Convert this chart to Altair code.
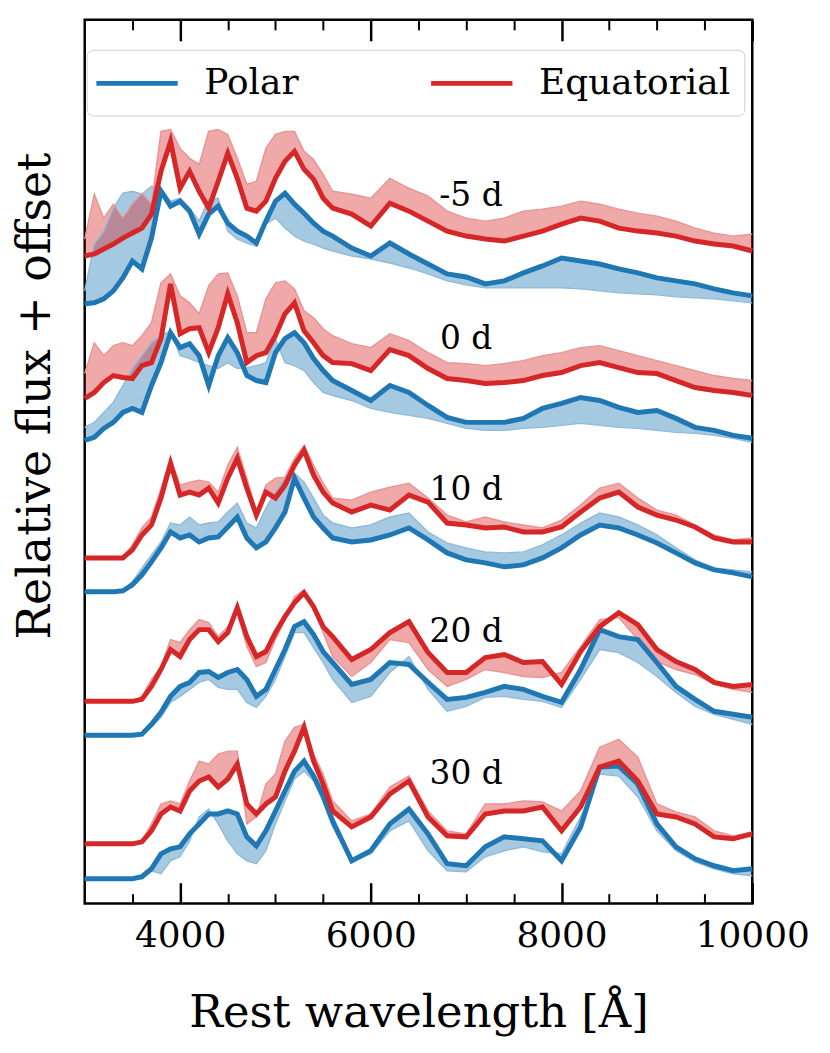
import altair as alt
import pandas as pd

WAVE = [3000, 3100, 3200, 3300, 3400, 3500, 3600, 3700, 3800, 3900, 4000, 4100, 4200, 4300,
        4400, 4500, 4600, 4700, 4800, 4900, 5000, 5100, 5200, 5300, 5400, 5500, 5600,
        5800, 6000, 6200, 6400, 6600, 6800, 7000, 7200, 7400, 7600, 7800, 8000, 8200, 8400,
        8600, 8800, 9000, 9200, 9400, 9600, 9800, 10000]

EPOCHS = ["-5 d", "0 d", "10 d", "20 d", "30 d"]

# Polar (line, band edge) and Equatorial (line, band edge), relative flux + offset
POLAR_M5 = [6.02, 6.03, 6.07, 6.15, 6.28, 6.45, 6.37, 6.68, 7.15, 7.00, 7.05, 6.95, 6.72, 6.92,
            7.00, 6.83, 6.75, 6.70, 6.63, 6.85, 7.05, 7.13, 7.02, 6.93, 6.83, 6.75, 6.70,
            6.58, 6.50, 6.63, 6.52, 6.42, 6.32, 6.29, 6.22, 6.25, 6.33, 6.40, 6.48, 6.45, 6.42,
            6.37, 6.33, 6.28, 6.25, 6.22, 6.17, 6.13, 6.10]
POLAR_M5_EDGE = [6.15, 6.62, 6.75, 6.98, 7.13, 7.15, 7.12, 7.20, 7.18, 7.05, 7.08, 6.98, 6.85, 7.07,
                 7.08, 6.75, 6.67, 6.63, 6.60, 6.82, 6.88, 6.78, 6.70, 6.65, 6.62, 6.58, 6.55,
                 6.50, 6.47, 6.43, 6.38, 6.32, 6.25, 6.21, 6.18, 6.18, 6.18, 6.18, 6.18, 6.17, 6.15,
                 6.13, 6.12, 6.11, 6.09, 6.08, 6.07, 6.05, 6.03]
EQUA_M5 = [6.50, 6.52, 6.57, 6.62, 6.68, 6.73, 6.78, 6.92, 7.35, 7.65, 7.18, 7.35, 7.15, 6.98,
           7.25, 7.53, 7.28, 6.98, 6.95, 7.05, 7.28, 7.45, 7.55, 7.37, 7.27, 7.08, 6.98,
           6.92, 6.80, 7.03, 6.95, 6.85, 6.75, 6.70, 6.67, 6.65, 6.70, 6.75, 6.82, 6.88, 6.85,
           6.78, 6.75, 6.73, 6.70, 6.65, 6.62, 6.60, 6.55]
EQUA_M5_EDGE = [6.67, 7.12, 6.88, 7.02, 6.88, 7.02, 7.13, 7.02, 7.75, 7.77, 7.58, 7.48, 7.42, 7.75,
                7.77, 7.72, 7.48, 7.22, 7.25, 7.58, 7.72, 7.75, 7.75, 7.55, 7.47, 7.32, 7.15,
                7.12, 7.08, 7.28, 7.18, 7.10, 6.95, 6.88, 6.85, 6.88, 6.95, 6.97, 7.00, 7.05, 7.02,
                6.97, 6.93, 6.90, 6.85, 6.78, 6.73, 6.70, 6.72]

POLAR_0 = [4.65, 4.68, 4.77, 4.83, 4.93, 4.97, 4.93, 5.20, 5.43, 5.73, 5.58, 5.62, 5.50, 5.20,
           5.50, 5.68, 5.53, 5.30, 5.25, 5.23, 5.53, 5.67, 5.73, 5.63, 5.47, 5.35, 5.25,
           5.15, 5.05, 5.20, 5.13, 5.00, 4.88, 4.83, 4.83, 4.83, 4.87, 4.97, 5.02, 5.08, 5.05,
           4.98, 4.93, 4.95, 4.87, 4.78, 4.75, 4.70, 4.67]
POLAR_0_EDGE = [4.78, 4.83, 4.93, 5.03, 5.20, 5.37, 5.50, 5.63, 5.70, 5.75, 5.50, 5.47, 5.43, 5.40,
                5.37, 5.43, 5.37, 5.38, 5.40, 5.43, 5.67, 5.43, 5.40, 5.35, 5.23, 5.13, 5.10,
                5.05, 4.97, 4.93, 4.90, 4.87, 4.82, 4.77, 4.75, 4.75, 4.77, 4.78, 4.80, 4.82, 4.80,
                4.78, 4.77, 4.75, 4.73, 4.72, 4.70, 4.67, 4.63]
EQUA_0 = [5.07, 5.13, 5.23, 5.30, 5.28, 5.27, 5.40, 5.43, 5.67, 6.22, 5.72, 5.77, 5.78, 5.53,
          5.78, 6.12, 5.83, 5.43, 5.50, 5.53, 5.70, 5.92, 6.03, 5.75, 5.63, 5.50, 5.43,
          5.42, 5.35, 5.56, 5.50, 5.37, 5.27, 5.25, 5.22, 5.23, 5.25, 5.30, 5.33, 5.40, 5.43,
          5.38, 5.33, 5.32, 5.25, 5.18, 5.15, 5.13, 5.10]
EQUA_0_EDGE = [5.32, 5.63, 5.50, 5.60, 5.63, 5.60, 5.70, 5.83, 6.23, 6.32, 6.10, 6.03, 5.92, 6.20,
               6.32, 6.33, 6.10, 5.73, 5.73, 6.07, 6.23, 6.25, 6.17, 5.95, 5.88, 5.77, 5.70,
               5.62, 5.58, 5.72, 5.65, 5.53, 5.43, 5.42, 5.40, 5.42, 5.45, 5.50, 5.53, 5.58, 5.60,
               5.55, 5.50, 5.45, 5.40, 5.35, 5.30, 5.27, 5.25]

POLAR_10 = [3.13, 3.13, 3.13, 3.13, 3.14, 3.20, 3.30, 3.43, 3.57, 3.73, 3.67, 3.70, 3.63, 3.67,
            3.68, 3.78, 3.88, 3.67, 3.57, 3.63, 3.77, 3.93, 4.27, 4.07, 3.88, 3.77, 3.67,
            3.63, 3.65, 3.70, 3.77, 3.65, 3.52, 3.45, 3.42, 3.38, 3.40, 3.47, 3.57, 3.70, 3.80,
            3.77, 3.70, 3.62, 3.52, 3.42, 3.35, 3.32, 3.28]
POLAR_10_EDGE = [3.13, 3.13, 3.13, 3.14, 3.15, 3.23, 3.37, 3.50, 3.63, 3.82, 3.80, 3.88, 3.80, 3.82,
                 3.83, 3.93, 4.02, 3.82, 3.77, 3.97, 4.13, 4.27, 4.32, 4.23, 4.07, 3.90, 3.82,
                 3.77, 3.80, 3.88, 3.92, 3.73, 3.62, 3.57, 3.53, 3.52, 3.53, 3.60, 3.70, 3.82, 3.92,
                 3.88, 3.80, 3.70, 3.57, 3.45, 3.37, 3.35, 3.33]
EQUA_10 = [3.47, 3.47, 3.47, 3.47, 3.47, 3.55, 3.70, 3.80, 4.07, 4.42, 4.10, 4.13, 4.10, 4.17,
           4.02, 4.27, 4.47, 4.17, 3.90, 4.13, 4.07, 4.20, 4.40, 4.55, 4.30, 4.13, 4.02,
           3.93, 4.00, 3.95, 4.10, 4.03, 3.82, 3.80, 3.77, 3.78, 3.73, 3.73, 3.78, 3.93, 4.07,
           4.13, 3.98, 3.90, 3.85, 3.78, 3.67, 3.63, 3.63]
EQUA_10_EDGE = [3.48, 3.48, 3.48, 3.48, 3.48, 3.60, 3.77, 3.88, 4.17, 4.47, 4.20, 4.23, 4.25, 4.23,
                4.13, 4.40, 4.58, 4.27, 3.93, 4.20, 4.27, 4.28, 4.47, 4.60, 4.40, 4.22, 4.07,
                4.05, 4.13, 4.18, 4.22, 4.07, 3.90, 3.83, 3.88, 3.83, 3.80, 3.77, 3.85, 4.00, 4.17,
                4.22, 4.07, 3.95, 3.90, 3.80, 3.70, 3.65, 3.67]

POLAR_20 = [1.69, 1.69, 1.69, 1.69, 1.69, 1.69, 1.70, 1.80, 1.92, 2.08, 2.18, 2.22, 2.32, 2.33,
            2.27, 2.32, 2.35, 2.25, 2.08, 2.15, 2.35, 2.55, 2.78, 2.83, 2.70, 2.53, 2.42,
            2.20, 2.25, 2.42, 2.40, 2.22, 2.05, 2.07, 2.12, 2.18, 2.15, 2.08, 2.02, 2.35, 2.75,
            2.68, 2.65, 2.42, 2.18, 2.05, 1.93, 1.90, 1.87]
POLAR_20_EDGE = [1.70, 1.70, 1.70, 1.70, 1.70, 1.70, 1.70, 1.77, 1.87, 2.02, 2.08, 2.15, 2.22, 2.25,
                 2.17, 2.15, 2.15, 2.02, 1.97, 2.08, 2.25, 2.48, 2.72, 2.72, 2.57, 2.42, 2.25,
                 2.02, 2.08, 2.32, 2.48, 2.15, 1.93, 1.98, 2.07, 2.08, 2.05, 2.03, 1.97, 2.25, 2.55,
                 2.52, 2.42, 2.28, 2.12, 1.98, 1.90, 1.85, 1.80]
EQUA_20 = [2.03, 2.03, 2.03, 2.03, 2.03, 2.03, 2.05, 2.18, 2.35, 2.55, 2.48, 2.65, 2.75, 2.75,
           2.63, 2.72, 2.97, 2.68, 2.48, 2.53, 2.72, 2.88, 3.02, 3.12, 2.98, 2.78, 2.68,
           2.45, 2.55, 2.72, 2.83, 2.52, 2.32, 2.32, 2.47, 2.50, 2.42, 2.43, 2.20, 2.53, 2.78,
           2.92, 2.80, 2.55, 2.43, 2.35, 2.22, 2.18, 2.20]
EQUA_20_EDGE = [2.03, 2.03, 2.03, 2.03, 2.03, 2.03, 2.08, 2.25, 2.38, 2.65, 2.62, 2.75, 2.85, 2.82,
                2.68, 2.78, 2.92, 2.58, 2.38, 2.42, 2.65, 2.85, 3.08, 3.15, 2.95, 2.72, 2.48,
                2.28, 2.42, 2.65, 2.62, 2.35, 2.18, 2.25, 2.35, 2.32, 2.28, 2.27, 2.32, 2.58, 2.85,
                2.87, 2.65, 2.43, 2.35, 2.30, 2.20, 2.15, 2.12]

POLAR_30 = [0.25, 0.25, 0.25, 0.25, 0.25, 0.25, 0.27, 0.35, 0.50, 0.55, 0.57, 0.70, 0.80, 0.90,
            0.90, 0.93, 0.90, 0.67, 0.58, 0.73, 0.93, 1.13, 1.33, 1.43, 1.28, 1.08, 0.83,
            0.43, 0.53, 0.80, 0.95, 0.70, 0.40, 0.38, 0.57, 0.67, 0.65, 0.63, 0.43, 0.77, 1.37,
            1.38, 1.20, 0.80, 0.57, 0.45, 0.38, 0.33, 0.35]
POLAR_30_EDGE = [0.25, 0.25, 0.25, 0.25, 0.25, 0.25, 0.25, 0.33, 0.30, 0.43, 0.47, 0.63, 0.87, 0.95,
                 0.80, 0.63, 0.50, 0.43, 0.40, 0.53, 0.80, 1.03, 1.25, 1.33, 1.23, 1.02, 0.77,
                 0.42, 0.50, 0.73, 0.83, 0.53, 0.33, 0.32, 0.47, 0.53, 0.57, 0.52, 0.50, 0.87, 1.30,
                 1.28, 1.07, 0.73, 0.53, 0.42, 0.35, 0.30, 0.28]
EQUA_30 = [0.60, 0.60, 0.60, 0.60, 0.60, 0.60, 0.62, 0.73, 0.90, 0.97, 0.93, 1.13, 1.23, 1.27,
           1.17, 1.25, 1.40, 1.00, 0.90, 1.00, 1.07, 1.33, 1.53, 1.77, 1.43, 1.20, 0.93,
           0.77, 0.87, 1.10, 1.23, 0.87, 0.68, 0.67, 0.90, 0.93, 0.93, 0.97, 0.73, 0.97, 1.37,
           1.43, 1.23, 0.90, 0.87, 0.80, 0.67, 0.65, 0.70]
EQUA_30_EDGE = [0.60, 0.60, 0.60, 0.60, 0.60, 0.60, 0.63, 0.80, 1.00, 1.03, 1.00, 1.23, 1.43, 1.40,
                1.50, 1.53, 1.53, 0.80, 0.87, 1.20, 1.30, 1.63, 1.77, 1.80, 1.50, 1.30, 1.03,
                0.83, 0.90, 1.17, 1.28, 0.93, 0.73, 0.70, 1.00, 1.00, 1.03, 1.02, 0.93, 1.13, 1.57,
                1.65, 1.47, 1.00, 0.92, 0.87, 0.73, 0.68, 0.72]

LABEL_WAVE = [7050, 7000, 7000, 7000, 7000]
LABEL_FLUX = [7.10, 5.67, 4.15, 2.73, 1.30]

SERIES = ["Polar", "Equatorial"]
COLORS = ["#1f77b4", "#d62728"]
EDGE_COLORS = ["#8fbbd9", "#ea9393"]
MAJOR = [4000, 6000, 8000, 10000]
MINOR = [3500, 4500, 5000, 5500, 6500, 7000, 7500, 8500, 9000, 9500]

polar = [(POLAR_M5, POLAR_M5_EDGE), (POLAR_0, POLAR_0_EDGE), (POLAR_10, POLAR_10_EDGE),
         (POLAR_20, POLAR_20_EDGE), (POLAR_30, POLAR_30_EDGE)]
equa = [(EQUA_M5, EQUA_M5_EDGE), (EQUA_0, EQUA_0_EDGE), (EQUA_10, EQUA_10_EDGE),
        (EQUA_20, EQUA_20_EDGE), (EQUA_30, EQUA_30_EDGE)]

rows = []
for i, ep in enumerate(EPOCHS):
    for name, (line, edge) in (("Polar", polar[i]), ("Equatorial", equa[i])):
        for w, f, e in zip(WAVE, line, edge):
            rows.append({"wave": w, "flux": f, "edge": e, "series": name,
                         "epoch": ep, "grp": f"{i}-{name}"})
df = pd.DataFrame(rows)
lab = pd.DataFrame({"epoch": EPOCHS, "lw": LABEL_WAVE, "lf": LABEL_FLUX})

FONT = "DejaVu Serif"
xs = alt.Scale(domain=[3000, 10000], nice=False, zero=False)
ys = alt.Scale(domain=[0, 8.87], nice=False, zero=False)
cs = alt.Scale(domain=SERIES, range=COLORS)
# hidden-legend scales listed in reverse order so they are not merged with the line legend
fs = alt.Scale(domain=SERIES[::-1], range=COLORS[::-1])
es = alt.Scale(domain=SERIES[::-1], range=EDGE_COLORS[::-1])


def tick_axis(orient, values, size, width):
    return alt.Axis(orient=orient, values=values, offset=-size, tickSize=size, tickWidth=width,
                    tickColor="black", labels=False, domain=False, grid=False, zindex=2)


label_axis = alt.Axis(orient="bottom", values=MAJOR, ticks=False, domain=False, grid=False,
                      labelFont=FONT, labelFontSize=36, labelPadding=15, labelColor="black",
                      labelFlush=False, labelOverlap=False, format="d",
                      title="Rest wavelength [Å]", titleFont=FONT, titleFontSize=45,
                      titleFontWeight="normal", titleColor="black", titlePadding=37)
y_axis = alt.Axis(labels=False, ticks=False, domain=False, grid=False,
                  title="Relative flux + offset", titleFont=FONT, titleFontSize=46,
                  titleFontWeight="normal", titleColor="black", titlePadding=35,
                  titleBaseline="alphabetic", titleY=377)

legend = alt.Legend(
    title=None, orient="none", legendX=2, legendY=30, direction="horizontal", columns=2,
    symbolType="M-1.4,0H3.4", symbolSize=1156, symbolStrokeWidth=5, symbolOpacity=1,
    labelFont=FONT, labelFontSize=36, labelColor="black", labelOffset=65, labelLimit=400,
    columnPadding=122, padding=14, fillColor="white", strokeColor="#d0d0d0",
    cornerRadius=6)

base = alt.Chart(df)

areas = base.mark_area(opacity=0.4).encode(
    x=alt.X("wave:Q", scale=xs, axis=label_axis),
    y=alt.Y("flux:Q", scale=ys, axis=y_axis, stack=None),
    y2="edge:Q",
    fill=alt.Fill("series:N", scale=fs, legend=None),
    detail="grp:N",
)

edges = base.mark_line(strokeWidth=1.4).encode(
    x=alt.X("wave:Q", scale=xs, axis=tick_axis("bottom", MAJOR, 21, 2.5), title=None),
    y=alt.Y("edge:Q", scale=ys, axis=None),
    color=alt.Color("series:N", scale=es, legend=None),
    detail="grp:N",
)

lines = base.mark_line(strokeWidth=5).encode(
    x=alt.X("wave:Q", scale=xs, axis=tick_axis("bottom", MINOR, 10, 2), title=None),
    y=alt.Y("flux:Q", scale=ys, axis=None),
    stroke=alt.Stroke("series:N", scale=cs, legend=legend),
    detail="grp:N",
)

texts = alt.Chart(lab).mark_text(font=FONT, fontSize=33, color="black").encode(
    x=alt.X("lw:Q", scale=xs, axis=tick_axis("top", MAJOR, 21, 2.5), title=None),
    y=alt.Y("lf:Q", scale=ys, axis=None),
    text="epoch:N",
)

dummy = alt.Chart(lab).mark_point(opacity=0).encode(
    x=alt.X("lw:Q", scale=xs, axis=tick_axis("top", MINOR, 10, 2), title=None),
    y=alt.Y("lf:Q", scale=ys, axis=None),
)

chart = alt.layer(areas, edges, lines, texts, dummy).resolve_axis(
    x="independent", y="independent"
).properties(
    width=670, height=887,
    autosize=alt.AutoSizeParams(type="none"),
    padding={"left": 77, "top": 10, "right": 70, "bottom": 140},
).configure(font=FONT).configure_view(stroke="black", strokeWidth=2.5)

chart.save("out.html", embed_options={"renderer": "svg", "actions": False})
